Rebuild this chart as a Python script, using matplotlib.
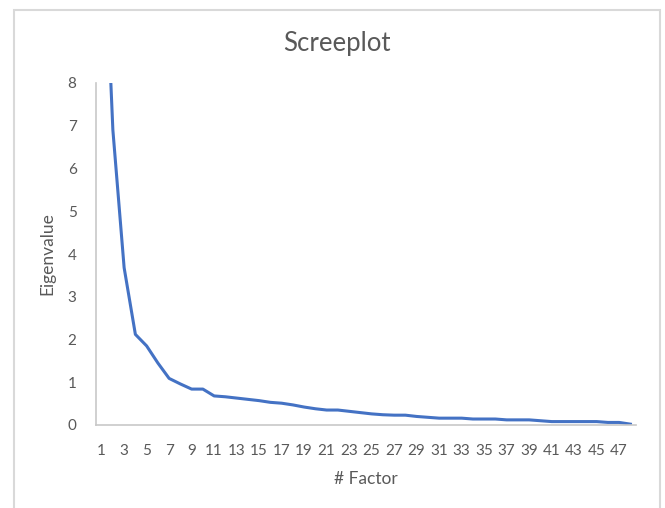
import numpy as np
import matplotlib
matplotlib.use('Agg')
import matplotlib.pyplot as plt
from matplotlib.patches import Rectangle

plt.rcParams['font.family'] = ['Lato', 'DejaVu Sans']

# eigenvalues (first one runs off the top)
factors = np.arange(1, 49)
eigen = [13.0, 6.9, 3.68, 2.12, 1.85, 1.45, 1.09, 0.96, 0.84, 0.84,
         0.68, 0.66, 0.63, 0.60, 0.57, 0.53, 0.51, 0.47, 0.42, 0.38,
         0.35, 0.35, 0.32, 0.29, 0.26, 0.24, 0.23, 0.23, 0.20, 0.18,
         0.16, 0.16, 0.16, 0.14, 0.14, 0.14, 0.12, 0.12, 0.12, 0.10,
         0.08, 0.08, 0.08, 0.08, 0.08, 0.06, 0.06, 0.02]
xticks = list(range(1, 48, 2))
yticks = [0, 1, 2, 3, 4, 5, 6, 7, 8]

grey = '#595959'
W, H = 665, 508
fig = plt.figure(figsize=(W/100, H/100), dpi=100)

# chart area border (Excel style)
fig.patches.append(Rectangle((14/W, -0.05), (660-14)/W, 1.05 - 10/H,
                             transform=fig.transFigure, fill=False,
                             edgecolor='#d9d9d9', lw=1.5))

ax = fig.add_axes([96/W, (H-425)/H, (636-96)/W, (425-83)/H])
ax.plot(factors, eigen, color='#4472C4', lw=2.2, solid_joinstyle='round')

ax.set_xlim(0.5, 48.5)
ax.set_ylim(0, 8)
ax.set_xticks(xticks)
ax.set_yticks(yticks)
ax.tick_params(length=0, colors=grey, labelsize=11)
ax.tick_params(axis='x', pad=14)
ax.tick_params(axis='y', pad=14)

for s in ['top', 'right']:
    ax.spines[s].set_visible(False)
for s in ['left', 'bottom']:
    ax.spines[s].set_color('#c8c8c8')
    ax.spines[s].set_linewidth(1.2)

ax.set_xlabel('# Factor', color=grey, fontsize=12.5, labelpad=9)
ax.set_ylabel('Eigenvalue', color=grey, fontsize=12.5, labelpad=9)
fig.text(337 / W, (H - 43) / H, 'Screeplot', ha='center',
         va='center', color=grey, fontsize=18.5)

fig.savefig('out.png', dpi=100)
